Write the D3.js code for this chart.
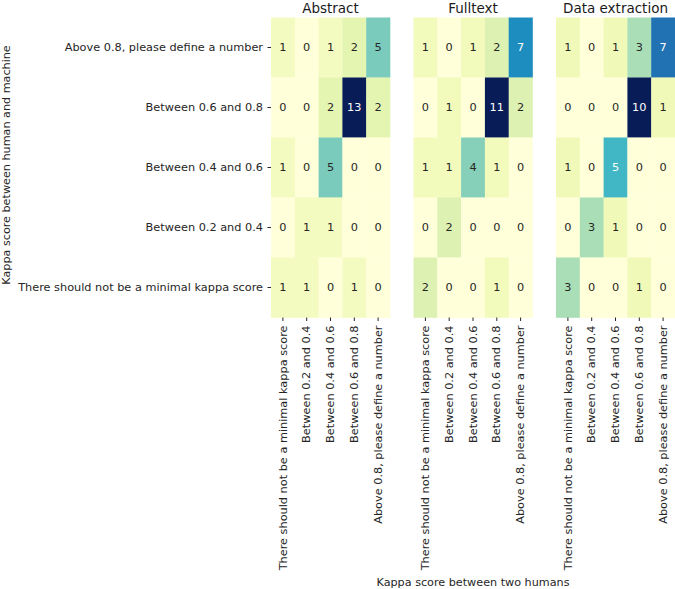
<!DOCTYPE html>
<html>
<head>
<meta charset="utf-8">
<script src="https://cdn.jsdelivr.net/npm/d3@7"></script>
<style>
  html, body { margin: 0; padding: 0; background: #fff; }
  text { font-family: "DejaVu Sans", sans-serif; }
</style>
</head>
<body>
<svg id="chart" width="675" height="589"></svg>
<script>
// ---- data ----
const panels = ["Abstract", "Fulltext", "Data extraction"];
const rowLabels = [
  "Above 0.8, please define a number",
  "Between 0.6 and 0.8",
  "Between 0.4 and 0.6",
  "Between 0.2 and 0.4",
  "There should not be a minimal kappa score"
];
const colLabels = [
  "There should not be a minimal kappa score",
  "Between 0.2 and 0.4",
  "Between 0.4 and 0.6",
  "Between 0.6 and 0.8",
  "Above 0.8, please define a number"
];
const abstractValues = [
  [1, 0, 1, 2, 5],
  [0, 0, 2, 13, 2],
  [1, 0, 5, 0, 0],
  [0, 1, 1, 0, 0],
  [1, 1, 0, 1, 0]
];
const fulltextValues = [
  [1, 0, 1, 2, 7],
  [0, 1, 0, 11, 2],
  [1, 1, 4, 1, 0],
  [0, 2, 0, 0, 0],
  [2, 0, 0, 1, 0]
];
const extractionValues = [
  [1, 0, 1, 3, 7],
  [0, 0, 0, 10, 1],
  [1, 0, 5, 0, 0],
  [0, 3, 1, 0, 0],
  [3, 0, 0, 1, 0]
];
const panelValues = [abstractValues, fulltextValues, extractionValues];
const xAxisTitle = "Kappa score between two humans";
const yAxisTitle = "Kappa score between human and machine";
const ylgnbu = ["#ffffd9","#edf8b1","#c7e9b4","#7fcdbb","#41b6c4","#1d91c0","#225ea8","#253494","#081d58"];

// ---- layout ----
const svg = d3.select("#chart");
const panelLeft = [271, 413.5, 556];
const panelW = 119;
const plotTop = 17.5;
const panelH = 300;
const tickLen = 3.5, tickPad = 3.5;
const textDark = "#262626";
const tickFont = 11.3;

function luminance(c) {
  const rgb = d3.rgb(c);
  const f = v => { v /= 255; return v <= 0.03928 ? v / 12.92 : Math.pow((v + 0.055) / 1.055, 2.4); };
  return 0.2126 * f(rgb.r) + 0.7152 * f(rgb.g) + 0.0722 * f(rgb.b);
}

panels.forEach((name, p) => {
  const vals = panelValues[p];
  const vmax = d3.max(vals.flat());
  const color = d3.scaleLinear()
    .domain(ylgnbu.map((_, i) => vmax * i / (ylgnbu.length - 1)))
    .range(ylgnbu)
    .interpolate(d3.interpolateRgb);

  const x = d3.scaleBand().domain(colLabels).range([panelLeft[p], panelLeft[p] + panelW]);
  const y = d3.scaleBand().domain(rowLabels).range([plotTop, plotTop + panelH]);
  const g = svg.append("g");

  const cells = [];
  rowLabels.forEach((r, i) => colLabels.forEach((c, j) => cells.push({ r, c, v: vals[i][j] })));

  g.selectAll("rect").data(cells).join("rect")
    .attr("x", d => x(d.c))
    .attr("y", d => y(d.r))
    .attr("width", x.bandwidth() + 0.3)
    .attr("height", y.bandwidth() + 0.3)
    .attr("fill", d => color(d.v));

  g.selectAll("text.val").data(cells).join("text")
    .attr("class", "val")
    .attr("x", d => x(d.c) + x.bandwidth() / 2)
    .attr("y", d => y(d.r) + y.bandwidth() / 2)
    .attr("text-anchor", "middle")
    .attr("dominant-baseline", "central")
    .attr("font-size", 11.3)
    .attr("fill", d => luminance(color(d.v)) > 0.408 ? textDark : "#ffffff")
    .text(d => d.v);

  // title
  svg.append("text")
    .attr("x", panelLeft[p] + panelW / 2)
    .attr("y", plotTop - 5)
    .attr("text-anchor", "middle")
    .attr("font-size", 13.5)
    .attr("fill", "#1a1a1a")
    .text(name);

  // x axis
  const xAxis = d3.axisBottom(x).tickSize(tickLen).tickPadding(tickPad);
  const xg = svg.append("g").attr("transform", `translate(0,${plotTop + panelH})`).call(xAxis);
  xg.select(".domain").remove();
  xg.selectAll(".tick line").attr("stroke", "#262626");
  xg.selectAll(".tick text")
    .attr("font-size", tickFont)
    .attr("fill", "#262626")
    .attr("transform", "rotate(-90)")
    .attr("text-anchor", "end")
    .attr("dy", "0.32em")
    .attr("x", -(tickLen + tickPad + 1))
    .attr("y", 0);

  if (p === 0) {
    const yAxis = d3.axisLeft(y).tickSize(tickLen).tickPadding(tickPad + 1);
    const yg = svg.append("g").attr("transform", `translate(${panelLeft[p]},0)`).call(yAxis);
    yg.select(".domain").remove();
    yg.selectAll(".tick line").attr("stroke", "#262626");
    yg.selectAll(".tick text").attr("font-size", tickFont).attr("fill", "#262626");
  }
});

svg.append("text")
  .attr("x", panelLeft[1] + panelW / 2)
  .attr("y", 585.5)
  .attr("text-anchor", "middle")
  .attr("font-size", 11.2)
  .attr("fill", "#262626")
  .text(xAxisTitle);

svg.append("text")
  .attr("transform", `translate(10,165) rotate(-90)`)
  .attr("text-anchor", "middle")
  .attr("font-size", 11.2)
  .attr("fill", "#262626")
  .text(yAxisTitle);
</script>
</body>
</html>
